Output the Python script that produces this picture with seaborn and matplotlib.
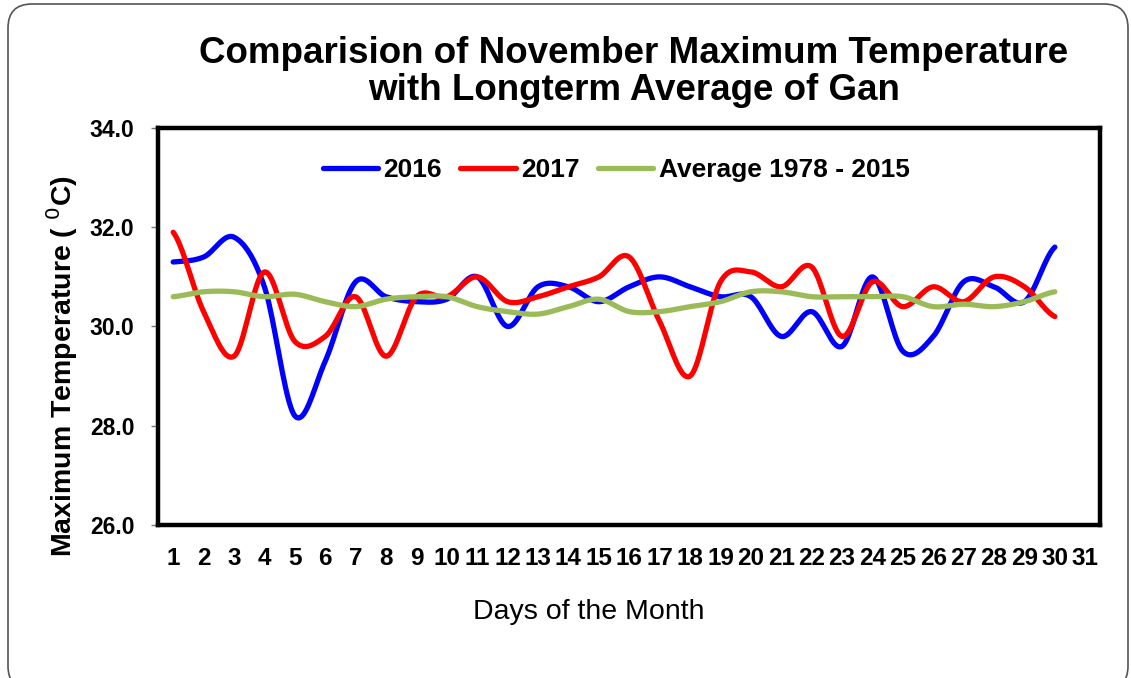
import numpy as np
import pandas as pd
import matplotlib
matplotlib.use("Agg")
import matplotlib.pyplot as plt
import seaborn as sns
from matplotlib.patches import FancyBboxPatch

# Values (November, Gan)
days = list(range(1, 32))
temp_2016 = [31.3, 31.4, 31.8, 30.8, 28.2, 29.3, 30.9, 30.6, 30.5, 30.55,
             31.0, 30.0, 30.8, 30.8, 30.5, 30.8, 31.0, 30.8, 30.6, 30.6,
             29.8, 30.3, 29.6, 31.0, 29.5, 29.8, 30.9, 30.8, 30.5, 31.6]
temp_2017 = [31.9, 30.3, 29.4, 31.1, 29.7, 29.8, 30.6, 29.4, 30.6, 30.6,
             31.0, 30.5, 30.6, 30.8, 31.0, 31.4, 30.1, 29.0, 30.9, 31.1,
             30.8, 31.2, 29.8, 30.9, 30.4, 30.8, 30.5, 31.0, 30.8, 30.2]
temp_avg = [30.6, 30.7, 30.7, 30.6, 30.65, 30.5, 30.4, 30.55, 30.6, 30.6,
            30.4, 30.3, 30.25, 30.4, 30.55, 30.3, 30.3, 30.4, 30.5, 30.7,
            30.7, 30.6, 30.6, 30.6, 30.6, 30.4, 30.45, 30.4, 30.5, 30.7]
labels = ["2016", "2017", "Average 1978 - 2015"]
colors = ["#0000FF", "#FF0000", "#9BBB59"]


def smooth(xs, ys, n=20):
    # Catmull-Rom curve through the points, like Excel's smoothed line
    xs = np.asarray(xs, float)
    ys = np.asarray(ys, float)
    px = np.concatenate([[2 * xs[0] - xs[1]], xs, [2 * xs[-1] - xs[-2]]])
    py = np.concatenate([[ys[0]], ys, [ys[-1]]])
    out_x, out_y = [], []
    t = np.linspace(0, 1, n, endpoint=False)
    for i in range(1, len(px) - 2):
        for p, out in ((px, out_x), (py, out_y)):
            p0, p1, p2, p3 = p[i - 1], p[i], p[i + 1], p[i + 2]
            out.extend(0.5 * (2 * p1 + (-p0 + p2) * t
                              + (2 * p0 - 5 * p1 + 4 * p2 - p3) * t ** 2
                              + (-p0 + 3 * p1 - 3 * p2 + p3) * t ** 3))
    out_x.append(xs[-1])
    out_y.append(ys[-1])
    return np.array(out_x), np.array(out_y)


sns.set_theme(style="white")
plt.rcParams["font.family"] = ["Liberation Sans", "DejaVu Sans"]
for k in ["text.color", "axes.labelcolor", "xtick.color", "ytick.color"]:
    plt.rcParams[k] = "black"

fig = plt.figure(figsize=(11.31, 6.78), dpi=100)

# rounded chart-area border, drawn in pixel units
bg = fig.add_axes([0, 0, 1, 1], zorder=-5)
bg.set_xlim(0, 1131)
bg.set_ylim(0, 678)
bg.axis("off")
bg.add_patch(FancyBboxPatch((8, -12), 1120, 686, boxstyle="round,pad=0,rounding_size=24",
                            facecolor="none", edgecolor="#555555", linewidth=1.2))

ax = fig.add_axes([0.1397, 0.2257, 0.8333, 0.5855])

n_days = len(temp_2016)
for vals, lab, col in zip([temp_2016, temp_2017, temp_avg], labels, colors):
    sx, sy = smooth(days[:n_days], vals)
    sns.lineplot(x=sx, y=sy, ax=ax, color=col, linewidth=3.8, label=lab,
                 sort=False, estimator=None, solid_capstyle="round")

ax.set_xlim(0.5, 31.5)
ax.set_ylim(26, 34)
ax.set_yticks([26, 28, 30, 32, 34])
ax.set_yticklabels([f"{v:.1f}" for v in [26, 28, 30, 32, 34]], fontsize=16.5, fontweight="bold")
ax.set_xticks(days)
ax.set_xticklabels([str(d) for d in days], fontsize=17.5, fontweight="bold")
ax.set_xticks(np.arange(0.5, 32, 1), minor=True)
ax.tick_params(axis="x", which="major", length=0, pad=16)
ax.tick_params(axis="x", which="minor", length=5, width=1, color="#777777", direction="out")
ax.tick_params(axis="y", length=5, width=1, color="#777777", direction="out", pad=12, left=True)

for s in ax.spines.values():
    s.set_visible(True)
    s.set_color("black")
    s.set_linewidth(3.2)

ax.set_xlabel("")
ax.set_ylabel("")
fig.text(589 / 1131, 1 - 612 / 678, "Days of the Month", ha="center", va="center", fontsize=20.5)
fig.text(62 / 1131, 1 - 366 / 678, "Maximum Temperature ( $^{0}$C)", ha="center", va="center",
         rotation=90, fontsize=20.5, fontweight="bold")
fig.text(634 / 1131, 1 - 72 / 678, "Comparision of November Maximum Temperature\nwith Longterm Average of Gan",
         ha="center", va="center", fontsize=26.5, fontweight="bold", linespacing=1.1)

leg = ax.legend(loc="center", bbox_to_anchor=(0.486, 0.894), ncol=3, frameon=False,
                prop={"size": 19, "weight": "bold"}, handlelength=2.1, handletextpad=0.2,
                columnspacing=0.7)

fig.savefig("out.png", dpi=100)
